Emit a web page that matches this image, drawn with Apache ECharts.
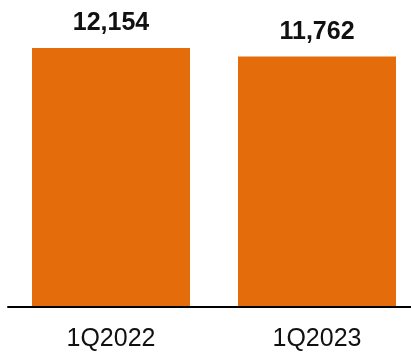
<!DOCTYPE html>
<html>
<head>
<meta charset="utf-8">
<script src="https://cdn.jsdelivr.net/npm/echarts@6/dist/echarts.min.js"></script>
<style>html,body{margin:0;padding:0;background:#fff;}#c{width:411px;height:352px;}</style>
</head>
<body>
<div id="c"></div>
<script>
const categories = ['1Q2022', '1Q2023'];
const values = [12154, 11762];

const chart = echarts.init(document.getElementById('c'), null, {renderer: 'canvas'});
chart.setOption({
  animation: false,
  grid: {left: 8, right: -9, top: 30, bottom: 45, containLabel: false, outerBoundsMode: 'none'},
  xAxis: {
    type: 'category',
    data: categories,
    z: 5,
    axisLine: {lineStyle: {color: '#000', width: 2}},
    axisTick: {show: false},
    axisLabel: {fontFamily: 'Liberation Sans', fontSize: 25, color: '#111', margin: 20}
  },
  yAxis: {
    type: 'value', min: 0, max: 13000, show: false,
    splitLine: {show: false}
  },
  series: [{
    type: 'bar',
    data: values,
    barWidth: 158,
    itemStyle: {color: '#E46C0A'},
    label: {
      show: true, position: 'top', distance: 12,
      fontFamily: 'Liberation Sans', fontWeight: 'bold', fontSize: 25, color: '#111',
      formatter: p => p.value.toLocaleString('en-US')
    }
  }]
});
</script>
</body>
</html>
